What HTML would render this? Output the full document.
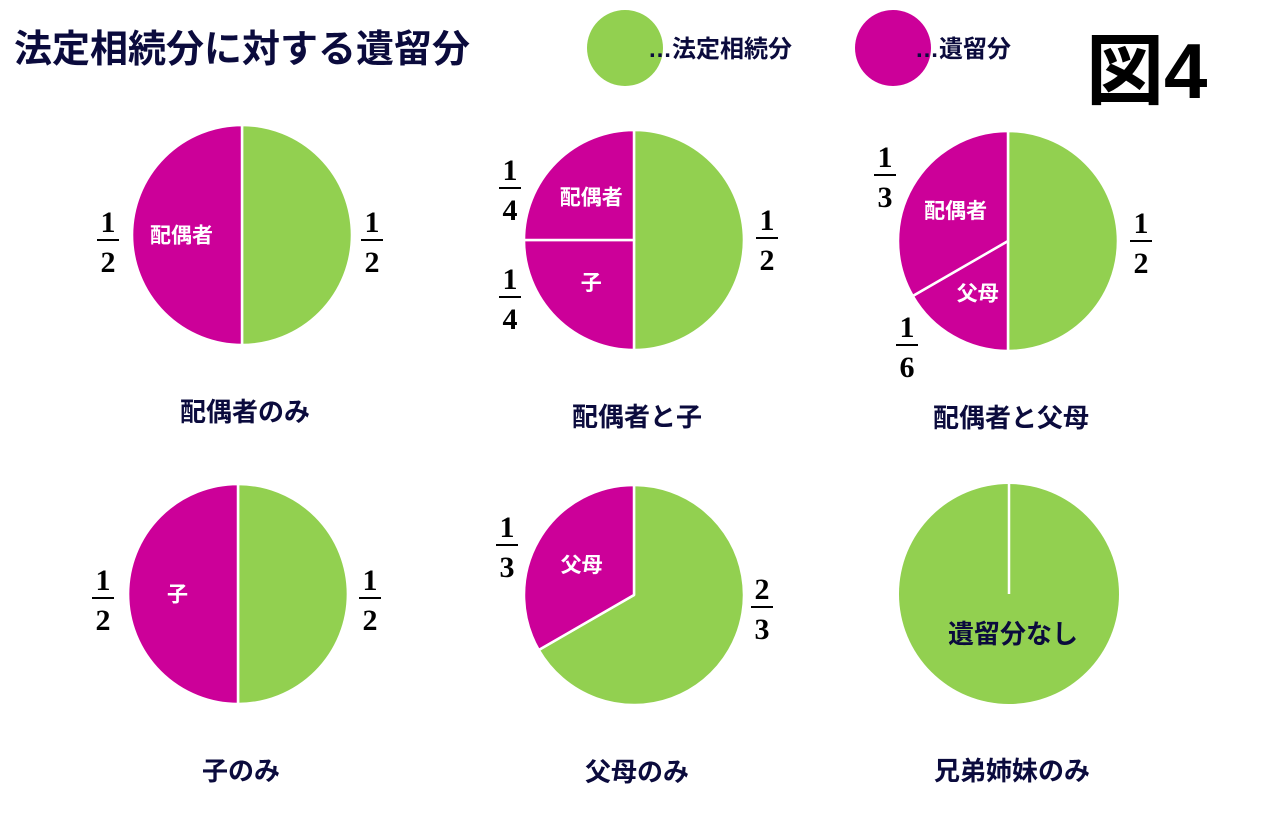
<!DOCTYPE html>
<html><head><meta charset="utf-8"><style>
body{margin:0;width:1262px;height:808px;background:#fff;overflow:hidden}
svg text{font-family:"Liberation Sans","Noto Sans CJK JP",sans-serif}
.fr{font-family:"Liberation Serif","Noto Serif CJK SC",serif !important;font-weight:bold;font-size:30px;fill:#000}
</style></head><body>
<svg id="c" width="1262" height="808" xmlns="http://www.w3.org/2000/svg">
<text x="14" y="62" font-size="38" font-weight="bold" fill="#0b0b3d">法定相続分に対する遺留分</text>
<circle cx="625" cy="48" r="38" fill="#92d050"/>
<text x="648" y="57" font-size="24" fill="#0b0b3d" font-weight="bold">…法定相続分</text>
<circle cx="893" cy="48" r="38" fill="#cc0099"/>
<text x="915" y="57" font-size="24" fill="#0b0b3d" font-weight="bold">…遺留分</text>
<text x="1086" y="98" font-size="78" font-weight="bold" fill="#000">図4</text>
<g id="pies"></g>
</svg>
<script>
const pieNames=["spouse-only","spouse-and-child","spouse-and-parents","child-only","parents-only","siblings-only"];
const pieTitles=["配偶者のみ","配偶者と子","配偶者と父母","子のみ","父母のみ","兄弟姉妹のみ"];
const pieCenters=[[242,235],[634,240],[1008,241],[238,594],[634,595],[1009,594]];
// slice values clockwise from top
const sliceValues=[[1/2,1/2],[1/2,1/4,1/4],[1/2,1/6,1/3],[1/2,1/2],[2/3,1/3],[1]];
const sliceKinds=[["g","m"],["g","m","m"],["g","m","m"],["g","m"],["g","m"],["g"]];
const sliceLabels=[["","配偶者"],["","子","配偶者"],["","父母","配偶者"],["","子"],["","父母"],["遺留分なし"]];
const fracNum=[["1","1"],["1","1","1"],["1","1","1"],["1","1"],["2","1"],[]];
const fracDen=[["2","2"],["2","4","4"],["2","6","3"],["2","2"],["3","3"],[]];
const fracPos=[[[372,240],[108,240]],[[767,238],[510,297],[510,188]],[[1141,241],[907,345],[885,175]],[[370,598],[103,598]],[[762,607],[507,545]],[]];
const R=110,NS="http://www.w3.org/2000/svg";
const g=document.getElementById('pies');
function mk(t,a){const e=document.createElementNS(NS,t);for(const k in a)e.setAttribute(k,a[k]);return e;}
function pt(cx,cy,r,f){const a=f*2*Math.PI;return [cx+r*Math.sin(a),cy-r*Math.cos(a)];}
pieCenters.forEach(([cx,cy],i)=>{
  let acc=0;
  sliceValues[i].forEach((v,j)=>{
    const col=sliceKinds[i][j]=="g"?"#92d050":"#cc0099";
    let el;
    if(v>=0.999){
      el=mk('circle',{cx,cy,r:R,fill:col});
      
      
      g.appendChild(el);
      const ln=mk('line',{x1:cx,y1:cy-R,x2:cx,y2:cy,stroke:'#fff','stroke-width':2.5});
      
      
      g.appendChild(ln);
    } else {
      const [x1,y1]=pt(cx,cy,R,acc),[x2,y2]=pt(cx,cy,R,acc+v);
      el=mk('path',{d:`M${cx},${cy}L${x1},${y1}A${R},${R} 0 ${v>0.5?1:0} 1 ${x2},${y2}Z`,fill:col,stroke:'#fff','stroke-width':2.5,'stroke-linejoin':'round'});
      
      
      g.appendChild(el);
    }
    const lab=sliceLabels[i][j];
    if(lab){
      let lx,ly,fs=21,fill='#fff';
      if(v>=0.999){lx=cx+4;ly=cy+40;fs=26;fill='#0b0b3d';}
      else{[lx,ly]=pt(cx,cy,R*0.55,acc+v/2);}
      const t=mk('text',{x:lx,y:ly+fs*0.35,'font-size':fs,'font-weight':'bold',fill,'text-anchor':'middle'});
      t.textContent=lab;
      
      
      g.appendChild(t);
    }
    acc+=v;
  });
  (fracPos[i]||[]).forEach(([fx,fy],k)=>{
    const n=mk('text',{x:fx,y:fy-8,'text-anchor':'middle',class:'fr'});n.textContent=fracNum[i][k];
    
    
    g.appendChild(n);
    const b=mk('line',{x1:fx-11,x2:fx+11,y1:fy,y2:fy,stroke:'#000','stroke-width':2});
    
    
    g.appendChild(b);
    const d=mk('text',{x:fx,y:fy+32,'text-anchor':'middle',class:'fr'});d.textContent=fracDen[i][k];
    
    
    g.appendChild(d);
  });
  const tt=mk('text',{x:cx+3,y:cy+186,'font-size':26,'font-weight':'bold',fill:'#0b0b3d','text-anchor':'middle'});
  tt.textContent=pieTitles[i];
  
  
  g.appendChild(tt);
});
</script>
</body></html>
